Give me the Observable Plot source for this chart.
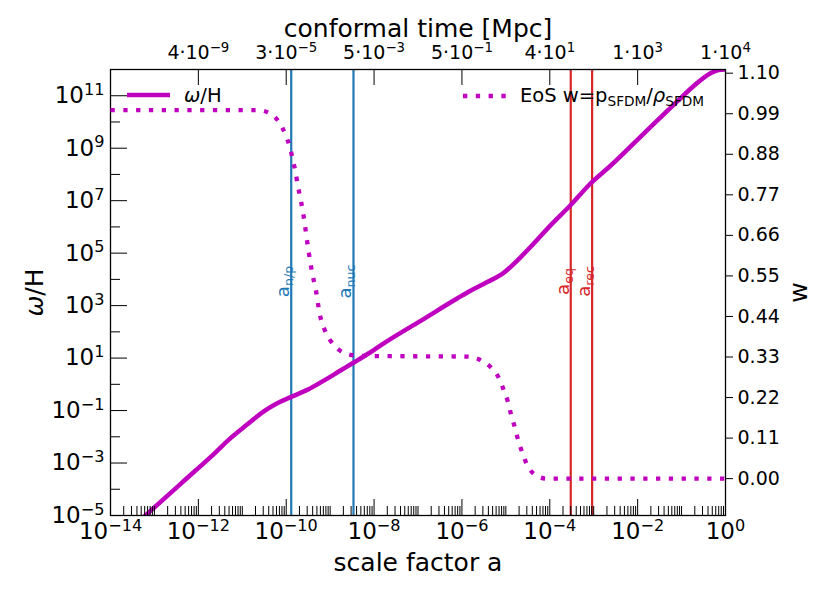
<!DOCTYPE html>
<html><head><meta charset="utf-8">
<script src="https://cdn.jsdelivr.net/npm/d3@7"></script>
<script src="https://cdn.jsdelivr.net/npm/@observablehq/plot@0.6"></script>
<style>
html,body{margin:0;padding:0;background:#fff;}
#wrap{position:relative;width:830px;height:593px;}
#wrap svg{position:absolute;left:0;top:0;}
</style></head><body><div id="wrap"></div>
<script>
// ---- data ----
const omegaA = [5.6e-14, 3.9e-13, 2.24e-12, 5.4e-12, 1.29e-11, 3.09e-11, 6.24e-11, 1.34e-10, 3.01e-10, 7.18e-10,
  1.72e-9, 3.45e-9, 8.3e-9, 1.99e-8, 1.15e-7, 7.76e-7, 1.57e-6, 3.76e-6, 8.97e-6, 1.27e-5, 3.64e-5, 1.04e-4,
  2.96e-4, 8.45e-4, 2.41e-3, 1.38e-2, 7.94e-2, 0.191, 0.455, 0.631, 0.794, 1];
const omegaH = [8.5e-6, 1.58e-4, 2.19e-3, 8.9e-3, 2.95e-2, 9.3e-2, 0.189, 0.340, 0.614, 1.39,
  3.35, 6.76, 16.7, 44.1, 263, 1862, 3715, 7889, 1.78e4, 2.94e4, 1.71e5, 1.15e6,
  6.68e6, 4.51e7, 2.14e8, 3.63e9, 6.03e10, 2.40e11, 7.24e11, 9.12e11, 9.8e11, 1.0e12];
const eosA = [1e-14, 2.19e-11, 4.37e-11, 7.14e-11, 9.64e-11, 1.21e-10, 1.41e-10, 1.63e-10, 1.84e-10, 2.11e-10,
  2.39e-10, 2.65e-10, 2.90e-10, 3.21e-10, 3.57e-10, 4.03e-10, 4.71e-10, 5.81e-10, 7.16e-10, 9.82e-10,
  1.57e-9, 2.90e-9, 5.0e-9, 1.32e-6, 2.63e-6, 4.47e-6, 6.92e-6, 8.97e-6, 1.11e-5, 1.32e-5,
  1.60e-5, 1.91e-5, 2.36e-5, 3.05e-5, 4.72e-5, 8.71e-5, 1];
const eosW = [1.0, 1.0, 0.99, 0.964, 0.933, 0.899, 0.866, 0.831, 0.795, 0.760,
  0.725, 0.691, 0.655, 0.620, 0.584, 0.550, 0.513, 0.446, 0.410, 0.377,
  0.350, 0.336, 0.333, 0.331, 0.322, 0.303, 0.273, 0.240, 0.209, 0.173,
  0.139, 0.104, 0.071, 0.037, 0.010, 0.0, 0.0];
const vlineA = [1.3e-10, 3.4e-9, 3.0e-4, 9.2e-4];
const vlineLabel = ["a_{n/p}", "a_{nuc}", "a_{eq}", "a_{rec}"];
const vlineColor = ["#1f77b4", "#1f77b4", "#d62728", "#d62728"];
const vlineLabelY = 8300;
const xMajorTicks = [1e-14, 1e-12, 1e-10, 1e-8, 1e-6, 1e-4, 1e-2, 1];
const yMajorTicks = [1e-5, 1e-3, 1e-1, 1e1, 1e3, 1e5, 1e7, 1e9, 1e11];
const yMinorTicks = [1e-4, 1e-2, 1, 1e2, 1e4, 1e6, 1e8, 1e10, 1e12];
const topTickA = [1e-12, 1e-10, 1e-8, 1e-6, 1e-4, 1e-2, 1];
const topTickLabels = ["4·10^{−9}", "3·10^{−5}", "5·10^{−3}", "5·10^{−1}", "4·10^{1}", "1·10^{3}", "1·10^{4}"];
const wTicks = [0, 0.11, 0.22, 0.33, 0.44, 0.55, 0.66, 0.77, 0.88, 0.99, 1.10];
const legendLabels = ["*{ω}/H", "EoS w=p_{SFDM}/*{ρ}_{SFDM}"];

// ---- chart ----
const W = 830, H = 593;
const M = {marginLeft: 110, marginRight: 105, marginTop: 69, marginBottom: 78};
const magenta = "#bf00bf";
const font = "DejaVu Sans";
const dots = "4.3,8.5";

const xMinorTicks = [];
for (let k = -14; k < 0; k++) for (let m = 1; m <= 9; m++) {
  if (m === 1 && k % 2 === 0) continue;
  xMinorTicks.push(+(m + "e" + k));
}

const omega = omegaA.map((a, i) => ({a, v: omegaH[i]}));
const eos = eosA.map((a, i) => ({a, w: eosW[i]}));
const vlines = vlineA.map((a, i) => ({a, label: vlineLabel[i], color: vlineColor[i]}));
const expFmt = d => { const e = Math.round(Math.log10(d)); return "10^{" + (e < 0 ? "−" : "") + Math.abs(e) + "}"; };

const p1 = Plot.plot({
  width: W, height: H, ...M,
  style: {fontFamily: font, background: "transparent", color: "black"},
  x: {type: "log", domain: [1e-14, 1]},
  y: {type: "log", domain: [1e-5, 1e12]},
  color: {type: "identity"},
  marks: [
    Plot.ruleX(vlines, {x: "a", stroke: "color", strokeWidth: 2.2}),
    Plot.text(vlines, {x: "a", y: () => vlineLabelY, text: "label", fill: "color", rotate: -90,
      textAnchor: "middle", lineAnchor: "bottom", dx: -2, fontSize: 18}),
    Plot.line(omega, {x: "a", y: "v", stroke: magenta, strokeWidth: 4.5, curve: "monotone-x", clip: true}),
    Plot.axisX({anchor: "bottom", ticks: xMinorTicks, tickSize: -9, fill: "none", label: null}),
    Plot.axisX({anchor: "bottom", ticks: xMajorTicks, tickSize: -16, fill: "none", label: null}),
    Plot.axisX({anchor: "bottom", ticks: xMajorTicks, tickSize: 0, tickPadding: 7, tickFormat: expFmt, fontSize: 23, label: null}),
    Plot.axisX({anchor: "top", ticks: topTickA, tickSize: -15, fill: "none", label: null}),
    Plot.axisX({anchor: "top", ticks: topTickA, tickSize: 0, tickPadding: 11,
      tickFormat: d => topTickLabels[topTickA.indexOf(d)], fontSize: 19, label: null}),
    Plot.axisY({anchor: "left", ticks: yMinorTicks, tickSize: -10, fill: "none", label: null}),
    Plot.axisY({anchor: "left", ticks: yMajorTicks, tickSize: -17, fill: "none", label: null}),
    Plot.axisY({anchor: "left", ticks: yMajorTicks, tickSize: 0, tickPadding: 6, tickFormat: expFmt, fontSize: 23, label: null}),
    Plot.frame({stroke: "black", strokeWidth: 1.3}),
    Plot.text(["scale factor a"], {text: d => d, frameAnchor: "bottom", lineAnchor: "bottom", dy: 55, fontSize: 25}),
    Plot.text(["conformal time [Mpc]"], {text: d => d, frameAnchor: "top", lineAnchor: "bottom", dy: -33, fontSize: 25}),
    Plot.text(["*{ω}/H"], {text: d => d, frameAnchor: "left", rotate: -90, textAnchor: "middle", lineAnchor: "middle", dx: -76, fontSize: 25})
  ]
});

const p2 = Plot.plot({
  width: W, height: H, ...M,
  style: {fontFamily: font, background: "transparent", color: "black"},
  x: {type: "log", domain: [1e-14, 1], axis: null},
  y: {domain: [-0.1, 1.11]},
  marks: [
    Plot.line(eos, {x: "a", y: "w", stroke: magenta, strokeWidth: 4.3, strokeDasharray: dots, strokeLinecap: "butt", curve: "monotone-x"}),
    Plot.axisY({anchor: "right", ticks: wTicks, tickSize: 7, tickPadding: 5, tickFormat: d => d.toFixed(2), fontSize: 19, label: null}),
    Plot.text(["w"], {text: d => d, frameAnchor: "right", rotate: -90, textAnchor: "middle", lineAnchor: "middle", dx: 73, fontSize: 25})
  ]
});

const wrap = document.getElementById("wrap");
wrap.appendChild(p1);
wrap.appendChild(p2);

// legend
const lg = d3.select(p2).append("g").attr("font-family", font).attr("font-size", 19.5)
  .attr("fill", "black").attr("text-anchor", "start");
lg.append("line").attr("x1", 127).attr("x2", 170).attr("y1", 95).attr("y2", 95)
  .attr("stroke", magenta).attr("stroke-width", 4.5);
lg.append("text").attr("x", 184).attr("y", 101.5).text(legendLabels[0]);
lg.append("line").attr("x1", 463).attr("x2", 506).attr("y1", 96).attr("y2", 96)
  .attr("stroke", magenta).attr("stroke-width", 4.3).attr("stroke-dasharray", dots).attr("stroke-linecap", "butt");
lg.append("text").attr("x", 520).attr("y", 101.5).text(legendLabels[1]);

// rich text: ^{sup}, _{sub}, *{italic}
function richText(root) {
  root.querySelectorAll("text").forEach(el => {
    const s = el.textContent;
    if (!/[_^*]\{/.test(s)) return;
    const fs = parseFloat(getComputedStyle(el).fontSize) || 16;
    while (el.firstChild) el.removeChild(el.firstChild);
    let cur = 0;
    const add = (txt, kind) => {
      if (!txt) return;
      const t = document.createElementNS("http://www.w3.org/2000/svg", "tspan");
      let target = 0;
      if (kind === "^") { target = -0.36 * fs; t.setAttribute("font-size", 0.7 * fs); }
      else if (kind === "_") { target = 0.22 * fs; t.setAttribute("font-size", 0.7 * fs); }
      else if (kind === "*") { t.setAttribute("font-style", "italic"); }
      if (target - cur !== 0) t.setAttribute("dy", target - cur);
      cur = target;
      t.textContent = txt;
      el.appendChild(t);
    };
    const re = /([_^*])\{([^}]*)\}/g;
    let last = 0, m;
    while ((m = re.exec(s))) {
      add(s.slice(last, m.index), "");
      add(m[2], m[1]);
      last = re.lastIndex;
    }
    add(s.slice(last), "");
  });
}
richText(p1);
richText(p2);
</script></body></html>
